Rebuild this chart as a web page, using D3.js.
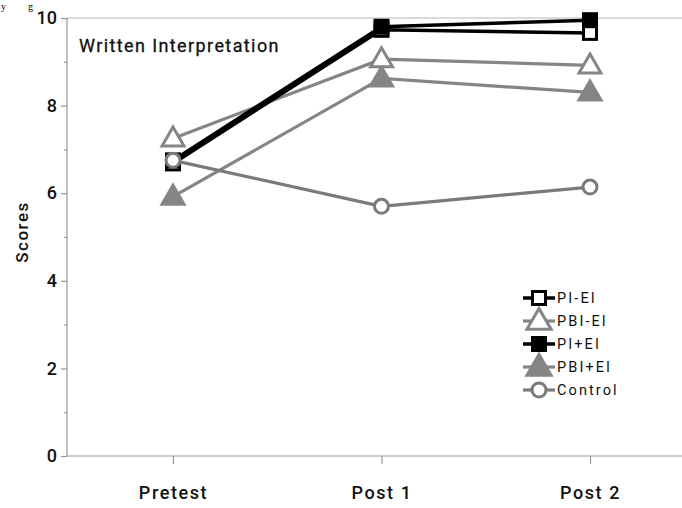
<!DOCTYPE html>
<html><head><meta charset="utf-8">
<script src="https://cdn.jsdelivr.net/npm/d3@7"></script>
<style>body{margin:0;background:#fff}svg{display:block}</style>
</head><body>
<svg id="c" width="682" height="508"></svg>
<script>
const categories = ["Pretest", "Post 1", "Post 2"];
const seriesNames = ["PI-EI", "PBI-EI", "PI+EI", "PBI+EI", "Control"];
const piEI   = [6.68, 9.73, 9.66];
const pbiEI  = [7.25, 9.06, 8.92];
const piPlusEI  = [6.75, 9.80, 9.95];
const pbiPlusEI = [5.92, 8.62, 8.30];
const control = [6.75, 5.70, 6.14];
const yTicks = [0, 2, 4, 6, 8, 10];
const yMinorTicks = [1, 3, 5, 7, 9];
const title = "Written Interpretation";
const yLabel = "Scores";

const series = [
  {name: seriesNames[0], values: piEI, color: "#000", shape: "square", fill: "#fff", lw: 3.5},
  {name: seriesNames[1], values: pbiEI, color: "#858585", shape: "triangle", fill: "#fff", lw: 3.2},
  {name: seriesNames[2], values: piPlusEI, color: "#000", shape: "square", fill: "#000", lw: 3.5},
  {name: seriesNames[3], values: pbiPlusEI, color: "#858585", shape: "triangle", fill: "#858585", lw: 3.2},
  {name: seriesNames[4], values: control, color: "#7a7a7a", shape: "circle", fill: "#fff", lw: 3.2}
];

const svg = d3.select("#c");
const x = d3.scalePoint().domain(categories).range([173, 590]);
const y = d3.scaleLinear().domain([0, 10]).range([456, 18]);
const axisLeft = 67;
const grey = "#999";
const font = "Roboto, 'Liberation Sans', Arial, sans-serif";

// caption fragment at top (from the source page)
svg.append("text").attr("x", 1).attr("y", 10).attr("font-family", "Liberation Serif, serif")
  .attr("font-size", 10).text("y");
svg.append("text").attr("x", 28).attr("y", 10).attr("font-family", "Liberation Serif, serif")
  .attr("font-size", 10).text("g");

// top line at 10 and axes
svg.append("line").attr("x1", axisLeft).attr("x2", 682).attr("y1", y(10)).attr("y2", y(10))
  .attr("stroke", "#b5b5b5").attr("stroke-width", 1.2);
svg.append("line").attr("x1", axisLeft).attr("x2", 682).attr("y1", y(0)).attr("y2", y(0))
  .attr("stroke", grey).attr("stroke-width", 1.2);
svg.append("line").attr("x1", axisLeft).attr("x2", axisLeft).attr("y1", y(10)).attr("y2", y(0))
  .attr("stroke", grey).attr("stroke-width", 1.2);

// y ticks
const yAxis = d3.axisLeft(y).tickValues(yTicks).tickSize(6).tickFormat(d3.format("d"));
const gy = svg.append("g").attr("transform", `translate(${axisLeft},0)`).call(yAxis);
gy.select(".domain").remove();
gy.selectAll(".tick line").attr("stroke", grey).attr("stroke-width", 1.2);
gy.selectAll(".tick text").attr("font-family", font)
  .attr("font-size", 18).attr("font-weight", 500).attr("fill", "#111").attr("x", -10);
const gym = svg.append("g").attr("transform", `translate(${axisLeft},0)`)
  .call(d3.axisLeft(y).tickValues(yMinorTicks).tickSize(3).tickFormat(""));
gym.select(".domain").remove();
gym.selectAll(".tick line").attr("stroke", grey).attr("stroke-width", 1.2);

// x ticks
const gx = svg.append("g").attr("transform", `translate(0,${y(0)})`)
  .call(d3.axisBottom(x).tickSize(8).tickPadding(22));
gx.select(".domain").remove();
gx.selectAll(".tick line").attr("stroke", grey).attr("stroke-width", 1.2);
gx.selectAll(".tick text").attr("font-family", font)
  .attr("font-size", 18).attr("font-weight", 500).attr("letter-spacing", 1.6).attr("fill", "#111");

// y label
svg.append("text").attr("transform", "translate(28,232) rotate(-90)").attr("text-anchor", "middle")
  .attr("font-family", font).attr("font-size", 17).attr("font-weight", 500)
  .attr("letter-spacing", 1.5).attr("fill", "#111").text(yLabel);

// title
svg.append("text").attr("x", 79).attr("y", 52).attr("font-family", font)
  .attr("font-size", 18).attr("letter-spacing", 1.4).attr("fill", "#111")
  .attr("stroke", "#111").attr("stroke-width", 0.3).text(title);

function drawMarker(g, s, cx, cy, scale) {
  scale = scale || 1;
  if (s.shape === "square") {
    const a = 13 * scale;
    g.append("rect").attr("x", cx - a/2).attr("y", cy - a/2).attr("width", a).attr("height", a)
      .attr("fill", s.fill).attr("stroke", s.color).attr("stroke-width", 3);
  } else if (s.shape === "triangle") {
    const w = 22 * scale, h = 19 * scale;
    const p = [[cx, cy - h*0.6], [cx + w/2, cy + h*0.4], [cx - w/2, cy + h*0.4]];
    g.append("path").attr("d", d3.line()(p) + "Z").attr("fill", s.fill)
      .attr("stroke", s.color).attr("stroke-width", 3).attr("stroke-linejoin", "miter");
  } else {
    g.append("circle").attr("cx", cx).attr("cy", cy).attr("r", 7 * scale)
      .attr("fill", s.fill).attr("stroke", s.color).attr("stroke-width", 3);
  }
}

// draw order: grey triangles, black squares, control on top
const drawOrder = [3, 1, 0, 2, 4];
drawOrder.forEach(i => {
  const s = series[i];
  const g = svg.append("g");
  g.append("path").datum(s.values)
    .attr("d", d3.line().x((d, j) => x(categories[j])).y(d => y(d)))
    .attr("fill", "none").attr("stroke", s.color).attr("stroke-width", s.lw);
  s.values.forEach((v, j) => drawMarker(g, s, x(categories[j]), y(v)));
});

// legend
const lg = svg.append("g");
series.forEach((s, i) => {
  const cy = 298 + i * 23;
  lg.append("line").attr("x1", 523).attr("x2", 555).attr("y1", cy).attr("y2", cy)
    .attr("stroke", s.color).attr("stroke-width", s.lw);
  drawMarker(lg, s, 539, cy, s.shape === "triangle" ? 1.1 : 1);
  lg.append("text").attr("x", 557).attr("y", cy + 5).attr("font-family", font)
    .attr("font-size", 14.5).attr("letter-spacing", 2.1).attr("fill", "#111").text(s.name);
});
</script>
</body></html>
